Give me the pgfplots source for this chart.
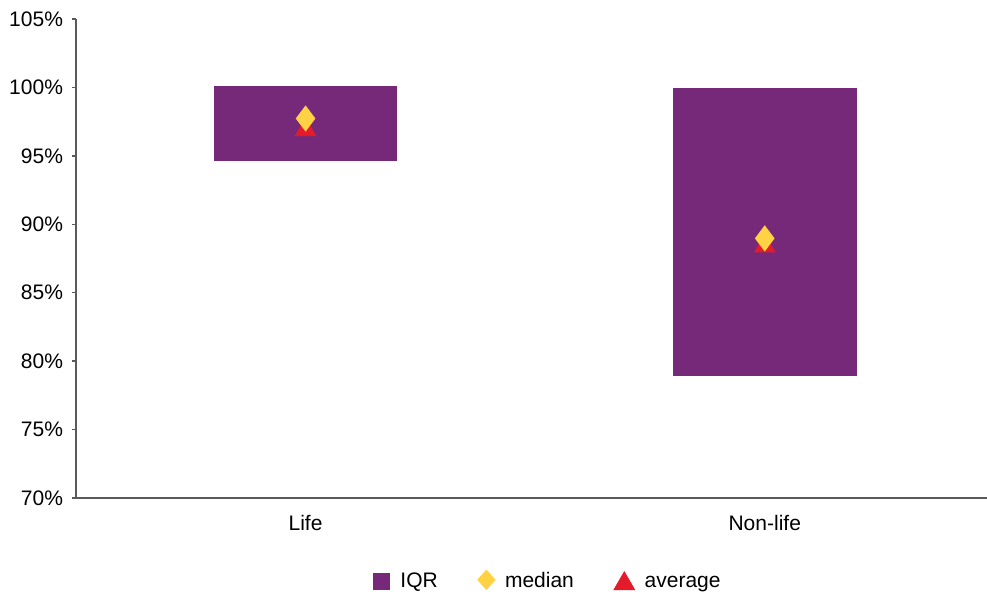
\documentclass[border=0pt]{standalone}
\usepackage{fontspec}
\setmainfont{Liberation Sans}
\usepackage{pgfplots}
\pgfplotsset{compat=1.18}

\definecolor{iqr}{RGB}{119,41,121}
\definecolor{med}{RGB}{255,210,70}
\definecolor{avg}{RGB}{227,27,42}
\definecolor{axgray}{RGB}{90,90,90}

\begin{document}
\begin{tikzpicture}
  \useasboundingbox (-38pt,-48pt) rectangle (455.5pt,249pt);
  \begin{axis}[
      at={(0pt,0pt)}, anchor=south west,
      scale only axis,
      width=455.5pt, height=239.5pt,
      xmin=0, xmax=1.984,
      ymin=70, ymax=105,
      ytick={70,75,...,105},
      yticklabel={\pgfmathprintnumber{\tick}\%},
      /pgf/number format/assume math mode=true,
      xtick={0.5,1.5},
      xticklabels={Life, Non-life},
      extra x ticks={1},
      extra x tick labels={},
      extra x tick style={major tick length=3pt, tick style={axgray, line width=0.8pt}},
      axis lines*=left,
      axis line style={axgray, line width=0.7pt},
      tick align=outside,
      xtick style={draw=none},
      ytick style={axgray, line width=0.7pt},
      major tick length=2pt,
      tick label style={font=\fontsize{10.5}{12}\selectfont, black},
      xticklabel style={yshift=-3pt},
      yticklabel style={xshift=-1pt},
      clip=false,
      legend style={at={(0.5225,-0.175)}, anchor=center, draw=none,
        legend columns=3, font=\fontsize{10.5}{12}\selectfont,
        nodes={text height=8pt, text depth=2.2pt, inner xsep=5pt},
        /tikz/every even column/.append style={column sep=15pt}},
      legend cell align=left,
    ]
    % IQR boxes
    \addplot[fill=iqr, draw=none,
      legend image code/.code={\fill[iqr] (0pt,-4.25pt) rectangle (8.5pt,4.25pt);}]
      coordinates {(0.3,94.6) (0.7,94.6) (0.7,100.1) (0.3,100.1)} -- cycle;
    \addlegendentry{IQR}
    \addplot[fill=iqr, draw=none, forget plot]
      coordinates {(1.3,78.9) (1.7,78.9) (1.7,99.95) (1.3,99.95)} -- cycle;
    % average (drawn below the median)
    \addplot[only marks, mark=triangle*, mark size=5.8pt, color=avg, forget plot]
      coordinates {(0.5,96.9) (1.5,88.4)};
    % median
    \addplot[only marks, mark=diamond*, mark size=6.2pt, color=med,
      legend image code/.code={\draw[mark=diamond*, mark size=4.8pt, mark options={xscale=1.2}] plot coordinates {(4.5pt,1pt)};}]
      coordinates {(0.5,97.73) (1.5,88.97)};
    \addlegendentry{median}
    \addlegendimage{only marks, mark=triangle*, mark size=6pt, color=avg,
      legend image code/.code={\draw[mark=triangle*, mark size=6pt] plot coordinates {(5pt,-1pt)};}}
    \addlegendentry{average}
  \end{axis}
\end{tikzpicture}
\end{document}
